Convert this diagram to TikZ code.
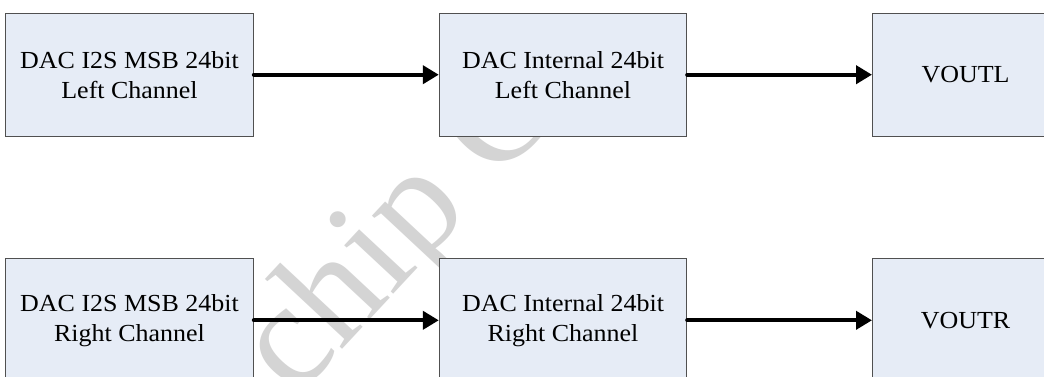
\documentclass[tikz,border=0pt]{standalone}
\usepackage{fontspec}
\newfontfamily\diafont{Liberation Serif}[FakeStretch=1.06]
\newfontfamily\wmfont{Liberation Serif}
\usetikzlibrary{arrows.meta}
\definecolor{boxfill}{RGB}{230,236,246}
\definecolor{boxline}{RGB}{80,80,80}
\definecolor{wmgray}{RGB}{212,212,212}
\tikzset{
  blockbox/.style={draw=boxline, line width=1pt, fill=boxfill, minimum height=122.7pt,
    inner sep=0pt, align=center, font=\diafont\fontsize{24.5pt}{30pt}\selectfont},
  flowarrow/.style={line width=4pt, line cap=round, -{Triangle[length=16pt,width=18pt]}},
  wmark/.style={text=wmgray, font=\wmfont\fontsize{150pt}{150pt}\selectfont, inner sep=0pt}
}
\begin{document}
\begin{tikzpicture}[x=1pt,y=-1pt]
\useasboundingbox (0,0) rectangle (1044,376);
\fill[white] (0,0) rectangle (1044,376);
\clip (0,0) rectangle (1044,376);
% watermark
\node[wmark, rotate=47, anchor=base west] (wm) at (295,400) {chip Co};
% top row
\node[blockbox, minimum width=247.6pt] (a1) at (129.5,74.7) {DAC I2S MSB 24bit\\Left Channel};
\node[blockbox, minimum width=247.4pt] (b1) at (563,74.7) {DAC Internal 24bit\\Left Channel};
\node[blockbox, minimum width=186pt] (c1) at (965.5,74.7) {VOUTL};
% bottom row
\node[blockbox, minimum width=247.6pt] (a2) at (129.5,320.3) {DAC I2S MSB 24bit\\Right Channel};
\node[blockbox, minimum width=247.4pt] (b2) at (563,320.3) {DAC Internal 24bit\\Right Channel};
\node[blockbox, minimum width=186pt] (c2) at (965.5,320.3) {VOUTR};
% connectors
\draw[flowarrow] (a1.east) -- (b1.west);
\draw[flowarrow] (b1.east) -- (c1.west);
\draw[flowarrow] (a2.east) -- (b2.west);
\draw[flowarrow] (b2.east) -- (c2.west);
\end{tikzpicture}
\end{document}
